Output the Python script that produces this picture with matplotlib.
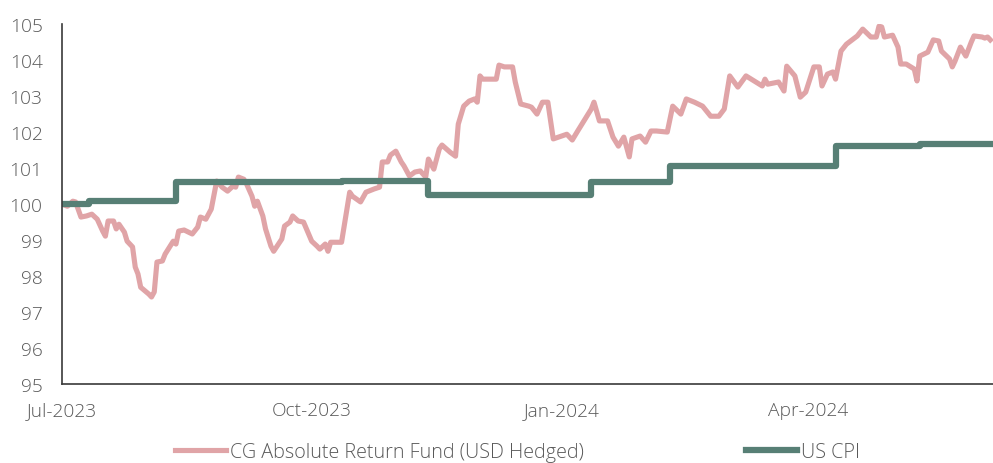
import pandas as pd
import matplotlib
matplotlib.use("Agg")
import matplotlib.pyplot as plt
import matplotlib.dates as mdates

# fund index (rebased to 100)
fund_dates = [
    "2023-07-01", "2023-07-03", "2023-07-05", "2023-07-06", "2023-07-08", "2023-07-10",
    "2023-07-12", "2023-07-14", "2023-07-16", "2023-07-17", "2023-07-18", "2023-07-20",
    "2023-07-21", "2023-07-22", "2023-07-24", "2023-07-25", "2023-07-27", "2023-07-28",
    "2023-07-29", "2023-07-30", "2023-08-02", "2023-08-03", "2023-08-04", "2023-08-05",
    "2023-08-07", "2023-08-08", "2023-08-11", "2023-08-12", "2023-08-13", "2023-08-15",
    "2023-08-18", "2023-08-20", "2023-08-21", "2023-08-23", "2023-08-25", "2023-08-27",
    "2023-08-29", "2023-08-31", "2023-09-02", "2023-09-03", "2023-09-04", "2023-09-06",
    "2023-09-07", "2023-09-09", "2023-09-10", "2023-09-11", "2023-09-13", "2023-09-14",
    "2023-09-16", "2023-09-17", "2023-09-20", "2023-09-21", "2023-09-23", "2023-09-24",
    "2023-09-26", "2023-09-28", "2023-10-01", "2023-10-03", "2023-10-04", "2023-10-06",
    "2023-10-07", "2023-10-08", "2023-10-12", "2023-10-15", "2023-10-16", "2023-10-19",
    "2023-10-21", "2023-10-24", "2023-10-26", "2023-10-27", "2023-10-29", "2023-10-30",
    "2023-11-01", "2023-11-03", "2023-11-04", "2023-11-06", "2023-11-08", "2023-11-10",
    "2023-11-12", "2023-11-13", "2023-11-15", "2023-11-17", "2023-11-18", "2023-11-21",
    "2023-11-23", "2023-11-24", "2023-11-26", "2023-11-28", "2023-11-30", "2023-12-01",
    "2023-12-02", "2023-12-03", "2023-12-08", "2023-12-09", "2023-12-11", "2023-12-14",
    "2023-12-15", "2023-12-17", "2023-12-20", "2023-12-21", "2023-12-23", "2023-12-25",
    "2023-12-27", "2023-12-29", "2024-01-03", "2024-01-05", "2024-01-07", "2024-01-12",
    "2024-01-13", "2024-01-15", "2024-01-18", "2024-01-20", "2024-01-22", "2024-01-24",
    "2024-01-26", "2024-01-27", "2024-01-30", "2024-02-01", "2024-02-03", "2024-02-05",
    "2024-02-09", "2024-02-11", "2024-02-14", "2024-02-16", "2024-02-19", "2024-02-22",
    "2024-02-25", "2024-02-28", "2024-03-01", "2024-03-03", "2024-03-06", "2024-03-09",
    "2024-03-15", "2024-03-16", "2024-03-17", "2024-03-21", "2024-03-23", "2024-03-24",
    "2024-03-27", "2024-03-29", "2024-03-31", "2024-04-03", "2024-04-05", "2024-04-06",
    "2024-04-08", "2024-04-10", "2024-04-11", "2024-04-13", "2024-04-15", "2024-04-19",
    "2024-04-21", "2024-04-24", "2024-04-26", "2024-04-27", "2024-04-28", "2024-04-29",
    "2024-05-02", "2024-05-04", "2024-05-05", "2024-05-07", "2024-05-10", "2024-05-11",
    "2024-05-12", "2024-05-15", "2024-05-17", "2024-05-19", "2024-05-20", "2024-05-23",
    "2024-05-24", "2024-05-25", "2024-05-27", "2024-05-29", "2024-05-31", "2024-06-01",
    "2024-06-04", "2024-06-05", "2024-06-06", "2024-06-07",
]
fund_values = [
    100.00, 99.94, 100.08, 100.06, 99.64, 99.67,
    99.72, 99.58, 99.25, 99.11, 99.53, 99.53,
    99.31, 99.44, 99.22, 98.97, 98.81, 98.25,
    98.06, 97.69, 97.50, 97.42, 97.56, 98.39,
    98.42, 98.61, 98.97, 98.89, 99.25, 99.28,
    99.17, 99.36, 99.64, 99.58, 99.86, 100.64,
    100.47, 100.36, 100.50, 100.47, 100.75, 100.69,
    100.56, 100.22, 99.94, 100.08, 99.67, 99.31,
    98.83, 98.69, 99.03, 99.39, 99.50, 99.67,
    99.53, 99.50, 98.97, 98.83, 98.75, 98.89,
    98.69, 98.94, 98.94, 100.33, 100.22, 100.06,
    100.33, 100.42, 100.47, 101.17, 101.17, 101.36,
    101.47, 101.17, 101.06, 100.78, 100.89, 100.92,
    100.75, 101.25, 100.97, 101.53, 101.64, 101.44,
    101.33, 102.22, 102.72, 102.86, 102.92, 102.83,
    103.56, 103.47, 103.47, 103.86, 103.81, 103.81,
    103.39, 102.78, 102.72, 102.69, 102.50, 102.83,
    102.83, 101.81, 101.94, 101.78, 102.03, 102.64,
    102.83, 102.31, 102.31, 101.86, 101.61, 101.86,
    101.31, 101.81, 101.89, 101.72, 102.03, 102.03,
    102.00, 102.72, 102.50, 102.92, 102.83, 102.72,
    102.44, 102.44, 102.64, 103.56, 103.25, 103.56,
    103.28, 103.47, 103.33, 103.39, 103.14, 103.83,
    103.56, 102.97, 103.11, 103.81, 103.81, 103.28,
    103.61, 103.67, 103.47, 104.25, 104.44, 104.67,
    104.86, 104.64, 104.64, 104.94, 104.92, 104.64,
    104.69, 104.36, 103.89, 103.89, 103.75, 103.42,
    104.11, 104.22, 104.56, 104.53, 104.25, 104.03,
    103.81, 103.97, 104.36, 104.11, 104.50, 104.67,
    104.64, 104.61, 104.64, 104.56,
]

# US CPI index, changes on release dates
cpi_dates = ["2023-07-01", "2023-07-11", "2023-08-12", "2023-10-12", "2023-11-13",
             "2024-01-12", "2024-02-10", "2024-04-11", "2024-05-12", "2024-06-07"]
cpi_values = [100.00, 100.08, 100.61, 100.65, 100.25,
              100.61, 101.06, 101.61, 101.68, 101.68]

fund_label = "CG Absolute Return Fund (USD Hedged)"
cpi_label = "US CPI"
pink = "#E0A4A7"
green = "#577F75"
text_col = "#595959"

plt.rcParams["font.family"] = ["Open Sans", "DejaVu Sans"]
plt.rcParams["font.weight"] = "light"

fig = plt.figure(figsize=(9.93, 4.64), dpi=100)
ax = fig.add_axes([0.0624, 0.170, 0.9376, 0.776])

ax.plot(pd.to_datetime(fund_dates), fund_values, color=pink, lw=3.7,
        solid_joinstyle="round", label=fund_label)
ax.step(pd.to_datetime(cpi_dates), cpi_values, where="post", color=green, lw=4.5,
        label=cpi_label)

ax.set_xlim(pd.Timestamp("2023-07-01"), pd.Timestamp("2024-06-08"))
ax.set_ylim(95, 105)
ax.set_yticks(range(95, 106))

ax.xaxis.set_major_locator(mdates.MonthLocator(bymonth=[1, 4, 7, 10]))
ax.xaxis.set_major_formatter(mdates.DateFormatter("%b-%Y"))

for s in ["top", "right"]:
    ax.spines[s].set_visible(False)
for s in ["left", "bottom"]:
    ax.spines[s].set_color("#3a3a3a")
    ax.spines[s].set_linewidth(1.2)

ax.tick_params(axis="y", length=0, pad=14, labelsize=13.8, labelcolor=text_col)
ax.tick_params(axis="x", length=0, pad=12, labelsize=13.8, labelcolor=text_col)

fig.legend(loc="center", bbox_to_anchor=(0.521, 0.024), ncol=2, frameon=False,
           fontsize=14.2, labelcolor=text_col, handlelength=2.6, handletextpad=0.2,
           columnspacing=8.2)

fig.savefig("out.png", dpi=100)
